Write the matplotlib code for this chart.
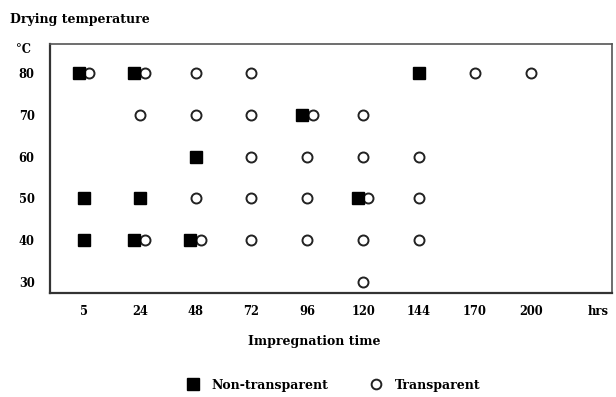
import matplotlib
matplotlib.use("Agg")
import matplotlib.pyplot as plt
from matplotlib.lines import Line2D

HOURS = ["5", "24", "48", "72", "96", "120", "144", "170", "200"]
TEMPS = [80, 70, 60, 50, 40, 30]

# (hours, temp) observations
NON_TRANSPARENT = [("5", 80), ("24", 80), ("144", 80),
                   ("96", 70),
                   ("48", 60),
                   ("5", 50), ("24", 50), ("120", 50),
                   ("5", 40), ("24", 40), ("48", 40)]
TRANSPARENT = [("5", 80), ("24", 80), ("48", 80), ("72", 80), ("170", 80), ("200", 80),
               ("24", 70), ("48", 70), ("72", 70), ("96", 70), ("120", 70),
               ("72", 60), ("96", 60), ("120", 60), ("144", 60),
               ("48", 50), ("72", 50), ("96", 50), ("120", 50), ("144", 50),
               ("24", 40), ("48", 40), ("72", 40), ("96", 40), ("120", 40), ("144", 40),
               ("120", 30)]

plt.rcParams["font.family"] = ["DejaVu Serif"]
plt.rcParams["font.weight"] = "bold"
FS = 8.3   # tick labels
FT = 9.0   # titles / legend

fig = plt.figure(figsize=(6.16, 3.97), dpi=100)
ax = fig.add_axes([0.081, 0.262, 0.912, 0.627])

both = set(NON_TRANSPARENT) & set(TRANSPARENT)
OFF = 0.095
def xpos(h, t, shift):
    i = HOURS.index(h)
    return i + shift if (h, t) in both else i

cx = [xpos(h, t, OFF) for h, t in TRANSPARENT]
cy = [t for h, t in TRANSPARENT]
sx = [xpos(h, t, -OFF) for h, t in NON_TRANSPARENT]
sy = [t for h, t in NON_TRANSPARENT]

ax.plot(cx, cy, "o", ls="none", ms=7.2, mfc="white", mec="#222", mew=1.4, zorder=2)
ax.plot(sx, sy, "s", ls="none", ms=8.2, mfc="black", mec="black", zorder=3)

ax.set_xlim(-0.61, 9.45)
ax.set_ylim(27.4, 86.9)
ax.set_xticks(range(len(HOURS)))
ax.set_xticklabels(HOURS)
ax.set_yticks(TEMPS)
ax.set_yticklabels([str(t) for t in TEMPS])
ax.tick_params(length=0, labelsize=FS)
ax.tick_params(axis="x", pad=9)
ax.tick_params(axis="y", pad=11)
for s in ("top", "right"):
    ax.spines[s].set_color("#555"); ax.spines[s].set_linewidth(1.2)
for s in ("left", "bottom"):
    ax.spines[s].set_color("#333"); ax.spines[s].set_linewidth(1.6)

ax.annotate("hrs", xy=(9.2, 0), xycoords=("data", "axes fraction"), xytext=(0, -9),
            textcoords="offset points", ha="center", va="top", fontsize=FS, fontweight="bold")
ax.text(-1.09, 85.6, "°C", ha="center", va="center", fontsize=FS, fontweight="bold", clip_on=False)
fig.text(0.016, 0.95, "Drying temperature", ha="left", va="center", fontsize=FT, fontweight="bold")
fig.text(0.51, 0.139, "Impregnation time", ha="center", va="center", fontsize=FT, fontweight="bold")

handles = [Line2D([], [], marker="s", ls="none", ms=8, mfc="black", mec="black"),
           Line2D([], [], marker="o", ls="none", ms=7, mfc="white", mec="#222", mew=1.4)]
fig.legend(handles, ["Non-transparent", "Transparent"], loc="center", bbox_to_anchor=(0.54, 0.03),
           ncol=2, frameon=False, fontsize=FT, columnspacing=3.2, handletextpad=0.9, handlelength=1.2)

fig.savefig("out.png", dpi=100, facecolor="white")
